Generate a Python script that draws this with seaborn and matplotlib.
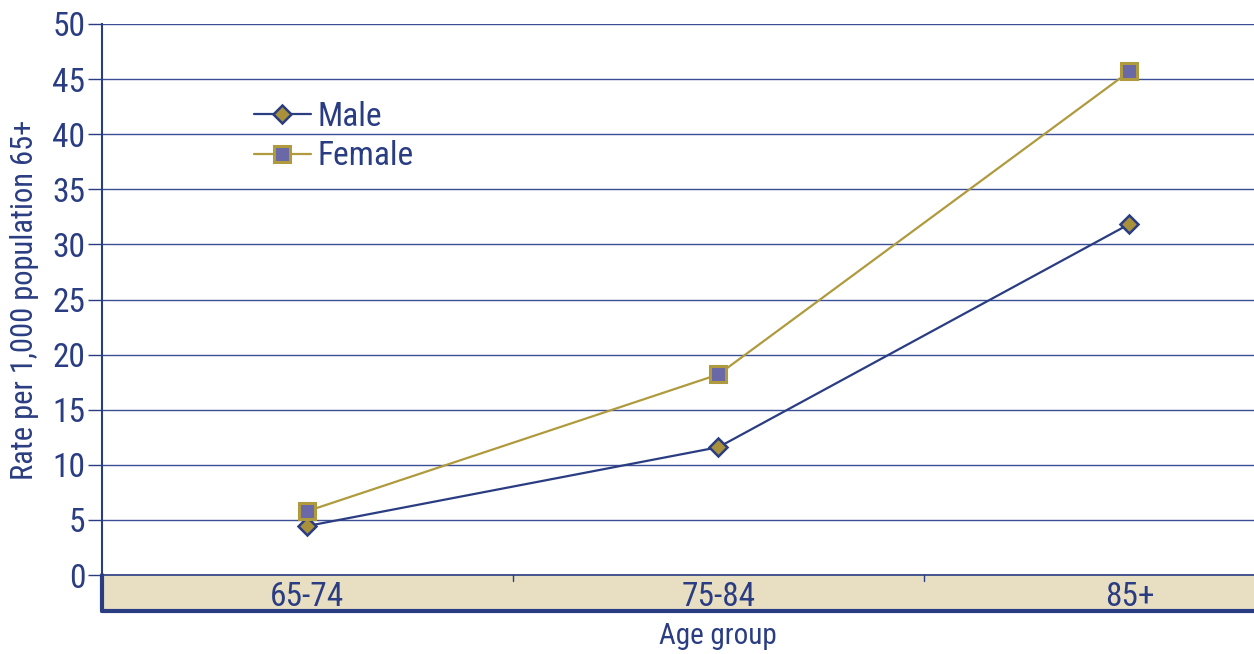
import pandas as pd
import seaborn as sns
import matplotlib.pyplot as plt
from matplotlib.patches import Rectangle
from matplotlib import font_manager

age_groups = ['65-74', '75-84', '85+']
male = [4.45, 11.6, 31.85]
female = [5.8, 18.2, 45.7]

navy = '#2a3d82'
gold = '#b09a3e'
purple = '#6a68a6'
band = '#e8dfc3'

names = {f.name for f in font_manager.fontManager.ttflist}
fam = 'DejaVu Sans'
for cand in ['Roboto Condensed', 'Liberation Sans Narrow', 'Archivo Narrow',
             'PT Sans Narrow', 'Arimo Narrow', 'Pragati Narrow', 'Asap Condensed',
             'Encode Sans Condensed', 'Open Sans Condensed']:
    if cand in names:
        fam = cand
        break

sns.set_style('white')
plt.rcParams['font.family'] = [fam, 'DejaVu Sans']

df_m = pd.DataFrame({'Age group': age_groups, 'Rate': male})
df_f = pd.DataFrame({'Age group': age_groups, 'Rate': female})

fig = plt.figure(figsize=(12.54, 6.54), dpi=100)
ax = fig.add_axes([102 / 1254, 1 - 575 / 654, 1 - 102 / 1254, (575 - 24) / 654])

sns.lineplot(data=df_m, x='Age group', y='Rate', ax=ax, color=navy, lw=1.6,
             marker='D', markersize=9, markerfacecolor='#a8913a',
             markeredgecolor=navy, markeredgewidth=1.8, label='Male')
sns.lineplot(data=df_f, x='Age group', y='Rate', ax=ax, color=gold, lw=1.6,
             marker='s', markersize=11.5, markerfacecolor=purple,
             markeredgecolor=gold, markeredgewidth=2.2, label='Female')

ax.set_ylim(0, 50)
ax.set_xlim(-0.5, 2.303)
ax.set_yticks(range(0, 51, 5))
ax.yaxis.grid(True, color='#3a4f95', lw=1.0)
ax.set_axisbelow(True)
for s in ['top', 'right']:
    ax.spines[s].set_visible(False)
ax.spines['left'].set_color(navy)
ax.spines['left'].set_linewidth(1.5)
ax.spines['bottom'].set_color(navy)
ax.spines['bottom'].set_linewidth(1.2)
ax.tick_params(axis='y', length=10, width=1.0, color=navy, labelsize=24,
               labelcolor=navy, pad=2, left=True)
ax.tick_params(axis='x', length=0, labelsize=24, labelcolor=navy, pad=4)

# category band under the plot
bh = 36 / 551 * 50
ax.add_patch(Rectangle((-0.5, -bh), 3.0, bh, facecolor=band, edgecolor='none',
                       clip_on=False, zorder=0))
ax.plot([-0.5, 2.303], [-bh, -bh], color=navy, lw=3, clip_on=False)
ax.plot([-0.5, -0.5], [-bh, 0], color=navy, lw=3, clip_on=False)
for xb in [0.5, 1.5]:
    ax.plot([xb, xb], [0, -0.5], color=navy, lw=1, clip_on=False)

ax.set_xlabel('Age group', fontsize=21, color=navy)
ax.xaxis.set_label_coords((718 - 102) / 1152, -0.086)
ax.set_ylabel('Rate per 1,000 population 65+', fontsize=22, color=navy)
ax.yaxis.set_label_coords(-0.055, 0.5)

leg = ax.legend(loc='upper left', bbox_to_anchor=(0.106, 0.915), frameon=False,
                fontsize=24, handlelength=1.7, labelspacing=0.22, handletextpad=0.2,
                labelcolor=navy)

fig.savefig('out.png', dpi=100)
